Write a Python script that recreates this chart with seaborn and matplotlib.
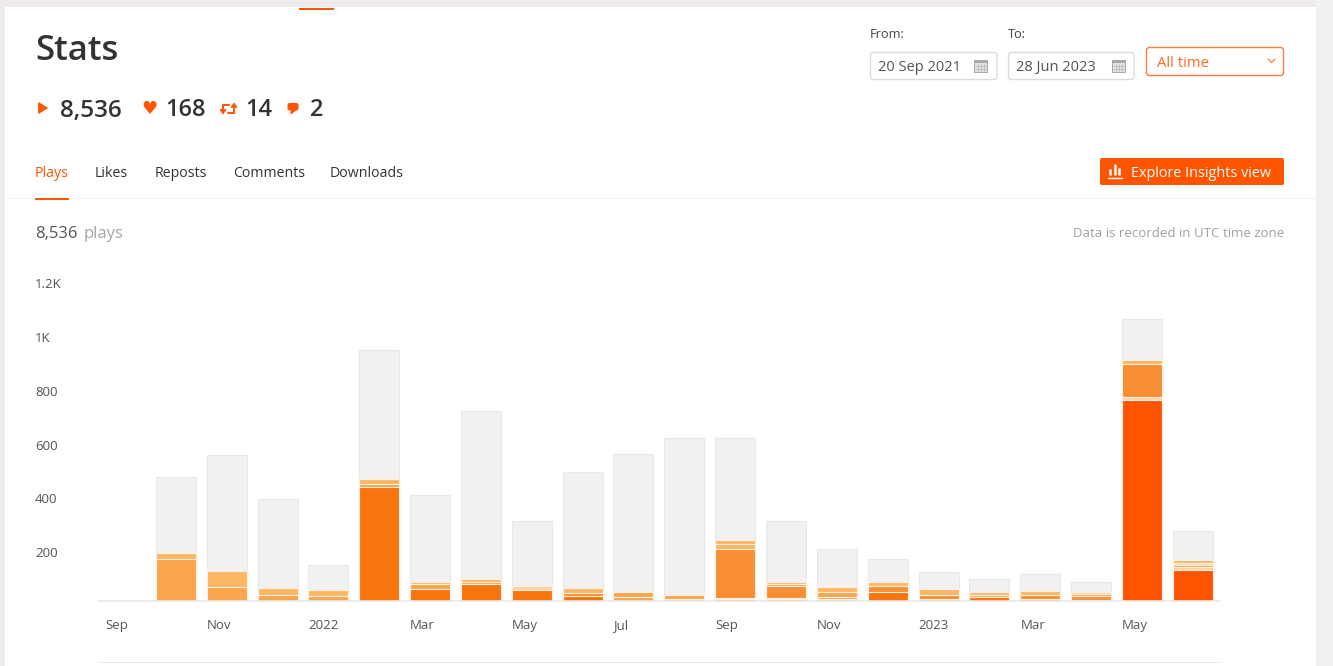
import numpy as np
import matplotlib
matplotlib.use("Agg")
import matplotlib.pyplot as plt
from matplotlib.patches import FancyBboxPatch, Polygon, Rectangle
from matplotlib.transforms import ScaledTranslation
import seaborn as sns

months = ["2021-09", "2021-10", "2021-11", "2021-12", "2022-01", "2022-02", "2022-03", "2022-04",
          "2022-05", "2022-06", "2022-07", "2022-08", "2022-09", "2022-10", "2022-11", "2022-12",
          "2023-01", "2023-02", "2023-03", "2023-04", "2023-05", "2023-06"]

# plays per stacked layer, bottom to top, the grey part is everything else
layer1 = [0, 155, 52, 21, 17, 424, 46, 63, 40, 17, 15, 9, 6, 6, 6, 33, 9, 15, 9, 5, 746, 115]
layer2 = [0, 25, 60, 26, 23, 12, 17, 9, 15, 12, 18, 12, 5, 5, 9, 23, 12, 9, 15, 12, 12, 10]
layer3 = [0, 0, 0, 0, 0, 16, 6, 10, 0, 18, 0, 0, 181, 45, 18, 16, 25, 11, 12, 9, 124, 8]
layer4 = [0, 0, 0, 0, 0, 0, 0, 0, 0, 0, 0, 0, 19, 8, 18, 0, 0, 0, 0, 7, 13, 9]
layer5 = [0, 0, 0, 0, 0, 0, 0, 0, 0, 0, 0, 0, 17, 8, 0, 0, 0, 0, 0, 0, 0, 12]
other = [0, 281, 430, 332, 93, 480, 324, 623, 241, 433, 512, 586, 376, 226, 143, 83, 61, 46, 66, 36, 152, 105]

yTicks = [200, 400, 600, 800, 1000, 1200]
yLabels = ["200", "400", "600", "800", "1K", "1.2K"]
xTicks = [0, 2, 4, 6, 8, 10, 12, 14, 16, 18, 20]
xLabels = ["Sep", "Nov", "2022", "Mar", "May", "Jul", "Sep", "Nov", "2023", "Mar", "May"]

RED = "#ff5500"
DRK = "#f8740f"
MID = "#f98f35"
LGT = "#faa64d"
TOP = "#fcb764"
PAL = "#fbd3a4"
GRY = "#f1f1f1"

layer1Colors = [LGT, LGT, LGT, LGT, LGT, DRK, DRK, DRK, DRK, DRK, LGT, LGT, DRK, DRK, LGT, DRK, LGT, DRK, DRK, LGT, RED, RED]
layer2Colors = [TOP, TOP, TOP, TOP, TOP, LGT, LGT, LGT, PAL, MID, LGT, LGT, PAL, PAL, LGT, MID, MID, LGT, MID, MID, PAL, PAL]
layer3Colors = [TOP, TOP, TOP, TOP, TOP, TOP, TOP, TOP, TOP, TOP, TOP, TOP, MID, MID, LGT, TOP, TOP, TOP, TOP, LGT, MID, LGT]
layer4Colors = [TOP] * 12 + [TOP, LGT, TOP, TOP, TOP, TOP, TOP, PAL, TOP, PAL]
layer5Colors = [TOP] * 22

TXT = "#333333"
BODY = "Open Sans"

sns.set_theme(style="white")
plt.rcParams["font.family"] = BODY

fig = plt.figure(figsize=(13.33, 6.66), dpi=100, facecolor="white")


def drawBars(ax):
    layers = [layer1, layer2, layer3, layer4, layer5, other]
    palettes = [layer1Colors, layer2Colors, layer3Colors, layer4Colors, layer5Colors, [GRY] * 22]
    tops = np.cumsum(np.array(layers), axis=0)
    # tallest first, each lower stack is painted over the one before it
    for i in range(5, -1, -1):
        edge = "#e8e8e8" if i == 5 else "#fff0e2"
        sns.barplot(x=months, y=tops[i], hue=months, palette=dict(zip(months, palettes[i])), order=months,
                    width=0.787, saturation=1, legend=False, edgecolor=edge, linewidth=0.8, ax=ax)


ax = fig.add_axes([99 / 1333, 65 / 666, 1121 / 1333, 323 / 666])
drawBars(ax)
ax.set_xlim(-0.511, 21.535)
ax.set_ylim(0, 1200)
sns.despine(ax=ax, left=True)
ax.spines["bottom"].set_color("#e9e9e9")
ax.spines["bottom"].set_linewidth(1.2)
ax.set_xlabel("")
ax.set_ylabel("")
ax.set_xticks(xTicks, xLabels)
ax.set_yticks(yTicks, yLabels)
ax.tick_params(axis="x", length=0, pad=11.5, labelsize=9.5, labelcolor="#555555")
ax.tick_params(axis="y", length=0, pad=0, labelsize=9.5, labelcolor="#555555")
for lab in ax.get_xticklabels():
    lab.set_ha("left")
    lab.set_va("baseline")
    lab.set_transform(lab.get_transform() + ScaledTranslation(-0.20, -0.12, fig.dpi_scale_trans))
for lab in ax.get_yticklabels():
    lab.set_ha("left")
    lab.set_transform(lab.get_transform() + ScaledTranslation(-0.64, -0.05, fig.dpi_scale_trans))

# page furniture, drawn in screen pixels
ui = fig.add_axes([0, 0, 1, 1], facecolor="none")
ui.set_xlim(0, 1333)
ui.set_ylim(666, 0)
ui.axis("off")


def box(x0, y0, x1, y1, face, edge="none", round=0.0, lw=1.0):
    if round > 0:
        p = FancyBboxPatch((x0, y0), x1 - x0, y1 - y0, boxstyle="round,pad=0,rounding_size=%s" % round,
                           facecolor=face, edgecolor=edge, linewidth=lw)
    else:
        p = Rectangle((x0, y0), x1 - x0, y1 - y0, facecolor=face, edgecolor=edge, linewidth=lw)
    ui.add_patch(p)


def shape(points):
    ui.add_patch(Polygon(points, facecolor=RED, edgecolor=RED, linewidth=0.6))


def label(x, y, s, size, color=TXT, ha="left", **kw):
    # y is the middle of the capitals, so descenders do not move the line
    ui.text(x, y + 0.357 * size * 100 / 72, s, fontsize=size, color=color, ha=ha, va="baseline", **kw)


def calendar(x, y):
    box(x, y, x + 13, y + 12, "#e3e3e3", "#a8a8a8", lw=0.7)
    box(x, y, x + 13, y + 3, "#a8a8a8")
    for gx in [x + 3.5, x + 6.5, x + 9.5]:
        ui.plot([gx, gx], [y + 4, y + 11], color="#b5b5b5", lw=0.5)
    for gy in [y + 6, y + 9]:
        ui.plot([x + 1, x + 12], [gy, gy], color="#b5b5b5", lw=0.5)


box(0, 0, 1333, 7, "#efebeb")
box(0, 0, 5, 666, "#efebeb")
box(1316, 0, 1333, 666, "#f1f1f1")
box(299, 8, 334, 10, RED)
box(5, 198, 1316, 199, "#f2f2f2")
box(35, 198, 69, 200, RED)
box(99, 662, 1220, 663, "#e5e5e5")

label(35, 48, "Stats", 25, weight=600)

shape([(38.5, 102.5), (38.5, 113.5), (47.5, 108)])
label(60, 108, "8,536", 17.5, weight=600)
ui.text(149, 109.5, "\u2665", fontsize=13, color=RED, ha="center", va="center", family="DejaVu Sans")
label(165, 108, "168", 17, weight=600)
ui.plot([229, 223, 223], [104.5, 104.5, 111], color=RED, lw=1.4)
ui.plot([228, 234, 234], [112.5, 112.5, 106], color=RED, lw=1.4)
shape([(220, 109.5), (226, 109.5), (223, 114)])
shape([(231, 107.5), (237, 107.5), (234, 103)])
label(245, 108, "14", 17, weight=600)
box(287.5, 103, 298.5, 110.5, RED, round=2)
shape([(291, 110), (296, 110), (291, 114)])
label(310, 108, "2", 17, weight=600)

tabs = ["Plays", "Likes", "Reposts", "Comments", "Downloads"]
tabX = [35, 95, 155, 233, 330]
for t, tx in zip(tabs, tabX):
    label(tx, 171.5, t, 10.2, color=RED if t == "Plays" else TXT)

label(35, 232.5, "8,536", 12, color="#555555")
label(84, 232.5, "plays", 12, color="#a5a5a5")
label(1284, 232.5, "Data is recorded in UTC time zone", 9.5, color="#a0a0a0", ha="right")

label(870, 33.5, "From:", 9.2, color="#444444")
label(1008, 33.5, "To:", 9.2, color="#444444")
box(870.5, 52.5, 997, 79.5, "white", "#dcdcdc", round=3)
box(1008.5, 52.5, 1134, 79.5, "white", "#dcdcdc", round=3)
label(878, 66, "20 Sep 2021", 10.5, color="#555555")
label(1016, 66, "28 Jun 2023", 10.5, color="#555555")
calendar(974, 60)
calendar(1112, 60)

box(1146.5, 47.5, 1283.5, 75.5, "white", "#ff7a3d", round=3)
label(1157, 61.5, "All time", 10.7, color="#ff6a1f")
ui.plot([1268, 1271.5, 1275], [59, 62.5, 59], color="#ff8a50", lw=1)

box(1100, 158, 1284, 185, RED, round=2)
for bx, h in zip([1110, 1114.5, 1119], [6, 11, 7]):
    ui.plot([bx, bx], [175, 175 - h], color="white", lw=1.8, solid_capstyle="butt")
ui.plot([1108, 1122], [178, 178], color="white", lw=1)
label(1131, 171.5, "Explore Insights view", 10.4, color="white")

fig.savefig("out.png", dpi=100)
